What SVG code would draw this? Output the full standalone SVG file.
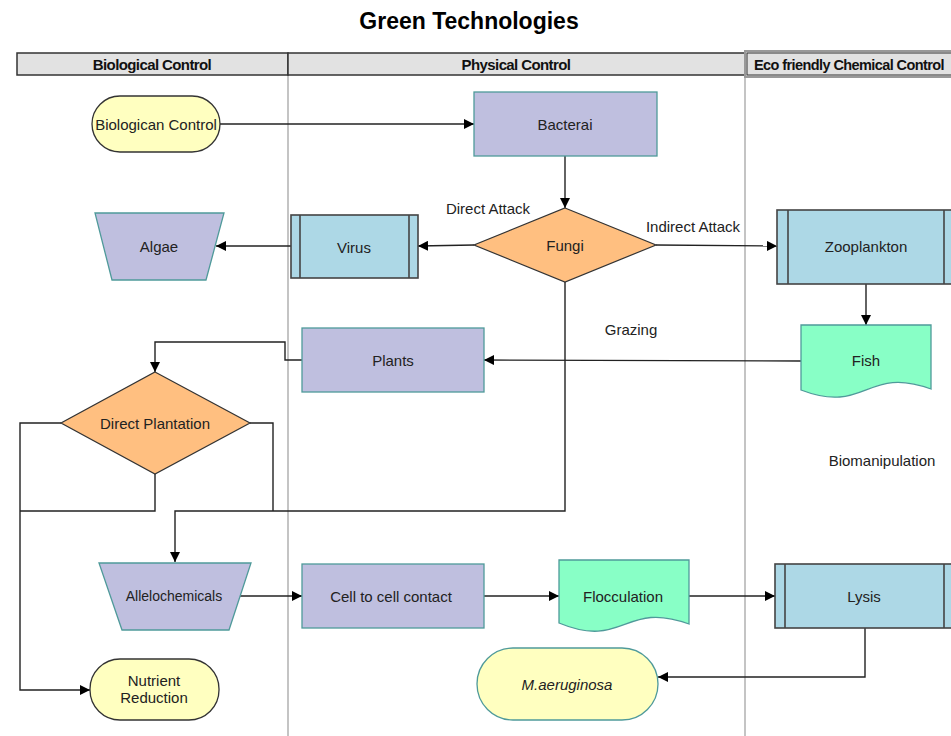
<svg xmlns="http://www.w3.org/2000/svg" width="951" height="736" viewBox="0 0 951 736">
<defs>
<marker id="arr" viewBox="0 0 10 10" refX="10" refY="5" markerWidth="10" markerHeight="10" markerUnits="userSpaceOnUse" orient="auto">
<path d="M0,0 L10,5 L0,10 Z" fill="#000"/>
</marker>
<style>
text{font-family:"Liberation Sans",Arial,sans-serif;font-size:15px;fill:#222;text-anchor:middle;dominant-baseline:central}
.title{font-size:23px;font-weight:bold;fill:#000}
.hdr{font-family:"Liberation Sans Narrow","Liberation Sans",sans-serif;font-weight:bold;font-size:15px;fill:#111;letter-spacing:-0.6px}
.hbox{fill:#E2E2E2;stroke:#333;stroke-width:1.5}
.lane{stroke:#C4C4C4;stroke-width:2;fill:none}
.lav{fill:#BFBFDF;stroke:#4F9A9A;stroke-width:1.3}
.ora{fill:#FFBF80;stroke:#333;stroke-width:1.2}
.blu{fill:#ADD8E6;stroke:#444;stroke-width:1.6}
.bar{stroke:#444;stroke-width:1.6;fill:none}
.mint{fill:#88FFC6;stroke:#4F9A9A;stroke-width:1.3}
.yel{fill:#FFFFC0;stroke:#333;stroke-width:1.3}
.yelt{fill:#FFFFC0;stroke:#4F9A9A;stroke-width:1.3}
.c{stroke:#222;stroke-width:1.4;fill:none}
.ca{stroke:#222;stroke-width:1.4;fill:none;marker-end:url(#arr)}
.lbl{font-size:15px;fill:#222}
</style>
</defs>
<rect width="951" height="736" fill="#fff"/>
<text class="title" x="469" y="21">Green Technologies</text>

<g id="lanes">
<line class="lane" x1="288" y1="75" x2="288" y2="736"/>
<line class="lane" x1="745" y1="77" x2="745" y2="736"/>
<rect class="hbox" x="17" y="53" width="271" height="22"/>
<rect class="hbox" x="288" y="53" width="457" height="22"/>
<rect x="745" y="51" width="210" height="26" fill="#E2E2E2" stroke="#999" stroke-width="2"/>
<rect x="747" y="53" width="210" height="22" fill="none" stroke="#333" stroke-width="1"/>
<text class="hdr" x="152" y="64">Biological Control</text>
<text class="hdr" x="516" y="64">Physical Control</text>
<text class="hdr" x="849" y="64" textLength="190" lengthAdjust="spacingAndGlyphs">Eco friendly Chemical Control</text>
</g>

<g id="connectors">
<line class="ca" x1="220" y1="124" x2="474" y2="124"/>
<line class="ca" x1="565" y1="156" x2="565" y2="208"/>
<line class="ca" x1="474" y1="245" x2="418" y2="246"/>
<line class="ca" x1="291" y1="246" x2="216" y2="246"/>
<line class="ca" x1="656" y1="245" x2="777" y2="246"/>
<line class="ca" x1="866" y1="284" x2="866" y2="325"/>
<line class="ca" x1="801" y1="361" x2="484" y2="360"/>
<polyline class="ca" points="302,360 285,360 285,342 155,342 155,372"/>
<polyline class="ca" points="565,282 565,511 175,511 175,562"/>
<polyline class="c" points="250,423 273,423 273,511"/>
<polyline class="c" points="155,474 155,511 20,511"/>
<polyline class="ca" points="61,423 20,423 20,690 90,690"/>
<line class="ca" x1="240" y1="596" x2="302" y2="596"/>
<line class="ca" x1="484" y1="596" x2="559" y2="596"/>
<line class="ca" x1="689" y1="596" x2="775" y2="596"/>
<polyline class="ca" points="865,628 865,677 658,677"/>
</g>

<g id="n-biologican">
<rect class="yel" x="92" y="96" width="128" height="56" rx="28"/>
<text x="156" y="124">Biologican Control</text>
</g>
<g id="n-bacterai">
<rect class="lav" x="474" y="92" width="183" height="64"/>
<text x="565" y="124">Bacterai</text>
</g>
<g id="n-fungi">
<polygon class="ora" points="565,208 656,245 565,282 474,245"/>
<text x="565" y="245">Fungi</text>
</g>
<g id="n-virus">
<rect class="blu" x="291" y="215" width="127" height="63"/>
<line class="bar" x1="300" y1="215" x2="300" y2="278"/>
<line class="bar" x1="409" y1="215" x2="409" y2="278"/>
<text x="354" y="247">Virus</text>
</g>
<g id="n-algae">
<polygon class="lav" points="95,213 224,213 206,280 112,280"/>
<text x="159" y="246">Algae</text>
</g>
<g id="n-zooplankton">
<rect class="blu" x="777" y="210" width="178" height="74"/>
<line class="bar" x1="788" y1="210" x2="788" y2="284"/>
<line class="bar" x1="944" y1="210" x2="944" y2="284"/>
<text x="866" y="246">Zooplankton</text>
</g>
<g id="n-fish">
<path class="mint" d="M801,325 H931 V389 C866,365 866,415 801,390 Z"/>
<text x="866" y="360">Fish</text>
</g>
<g id="n-plants">
<rect class="lav" x="302" y="328" width="182" height="64"/>
<text x="393" y="360">Plants</text>
</g>
<g id="n-direct-plantation">
<polygon class="ora" points="155,372 250,423 155,474 61,423"/>
<text x="155" y="423">Direct Plantation</text>
</g>
<g id="n-allelochemicals">
<polygon class="lav" points="99,563 251,563 229,630 122,630"/>
<text x="174" y="596" style="font-size:14px">Allelochemicals</text>
</g>
<g id="n-cell">
<rect class="lav" x="302" y="564" width="182" height="64"/>
<text x="391" y="596">Cell to cell contact</text>
</g>
<g id="n-flocculation">
<path class="mint" d="M559,560 H689 V624 C624,600 624,650 559,623 Z"/>
<text x="623" y="596">Flocculation</text>
</g>
<g id="n-lysis">
<rect class="blu" x="775" y="564" width="180" height="64"/>
<line class="bar" x1="785" y1="564" x2="785" y2="628"/>
<line class="bar" x1="944" y1="564" x2="944" y2="628"/>
<text x="864" y="596">Lysis</text>
</g>
<g id="n-maeruginosa">
<rect class="yelt" x="477" y="648" width="181" height="72" rx="36"/>
<text x="567" y="684" style="font-style:italic">M.aeruginosa</text>
</g>
<g id="n-nutrient">
<rect class="yel" x="90" y="659" width="129" height="61" rx="30"/>
<text x="154" y="680">Nutrient</text>
<text x="154" y="697">Reduction</text>
</g>

<g id="labels">
<text class="lbl" x="488" y="208">Direct Attack</text>
<text class="lbl" x="693" y="226">Indirect Attack</text>
<text class="lbl" x="631" y="329">Grazing</text>
<text class="lbl" x="882" y="460">Biomanipulation</text>
</g>
</svg>
